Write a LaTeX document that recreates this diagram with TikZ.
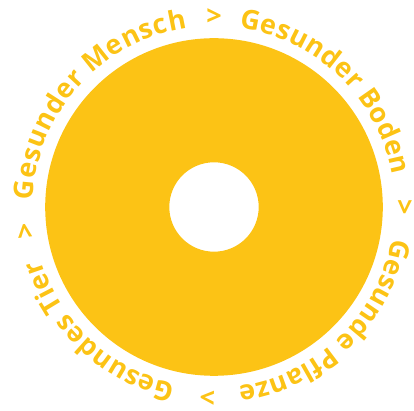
\documentclass[tikz,border=0pt]{standalone}
\usepackage{fontspec}
\setmainfont{Open Sans}
\usetikzlibrary{decorations.text}
\definecolor{ringgelb}{HTML}{FCC315}
\newcommand{\ringfont}{\bfseries\fontsize{27pt}{27pt}\selectfont\color{ringgelb}}
\tikzset{
  ring/.style={fill=ringgelb, even odd rule},
  phrase/.style={decorate, decoration={text along path, text align={fit to path}}},
  pfeil/.style={text=ringgelb, font=\ringfont, anchor=base, inner sep=0pt},
}

\begin{document}
\begin{tikzpicture}
  \def\Ra{168.8pt}
  \def\Ri{44.7pt}
  \def\R{181pt}
  \useasboundingbox (-214pt,-204pt) rectangle (200pt,207pt);
  % yellow ring with white hole
  \fill[ring] (0,0) circle (\Ra) (0,0) circle (\Ri);
  % the four phrases, clockwise, baseline on radius R
  \path[phrase, decoration={text={|\ringfont|Gesunder Mensch}}]
    (177.8:\R) arc[start angle=177.8, end angle=98.5, radius=\R];
  \path[phrase, decoration={text={|\ringfont|Gesunder Boden}}]
    (82:\R) arc[start angle=82, end angle=10.2, radius=\R];
  \path[phrase, decoration={text={|\ringfont|Gesunde Pflanze}}]
    (-9.9:\R) arc[start angle=-9.9, end angle=-82.3, radius=\R];
  \path[phrase, decoration={text={|\ringfont|Gesundes Tier}}]
    (-102.2:\R) arc[start angle=-102.2, end angle=-163, radius=\R];
  % arrows between the phrases
  \node[pfeil, rotate=0]   (gt1) at (90:\R)    {>};
  \node[pfeil, rotate=-90] (gt2) at (0:\R)     {>};
  \node[pfeil, rotate=-182] (gt3) at (-92:\R)  {>};
  \node[pfeil, rotate=-262.7] (gt4) at (-172.7:\R) {>};
\end{tikzpicture}
\end{document}
